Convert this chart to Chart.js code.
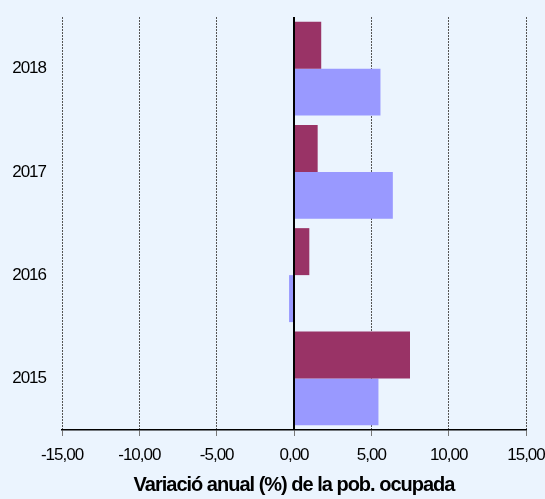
<!DOCTYPE html>
<html>
<head>
<meta charset="utf-8">
<script src="https://cdn.jsdelivr.net/npm/chart.js@4/dist/chart.umd.min.js"></script>
<style>
    html, body { margin: 0; padding: 0; background: #ebf4fe; }
    #wrap { width: 545px; height: 499px; position: relative; }
</style>
</head>
<body>
<div id="wrap"><canvas id="ocupChart"></canvas></div>
<script>
const years = ['2018', '2017', '2016', '2015'];
const serieA = [1.76, 1.53, 0.99, 7.50];
const serieB = [5.59, 6.39, -0.32, 5.46];
const xTicks = [-15, -10, -5, 0, 5, 10, 15];

const sans = "'Liberation Sans', Arial, sans-serif";

// the original uses a narrow face, squeeze the text a little
const tightText = {
    id: 'tightText',
    beforeLayout(chart) { chart.ctx.letterSpacing = '-1px'; },
    beforeDraw(chart) { chart.ctx.letterSpacing = '-1px'; }
};

// solid black line at zero, on top of the bars
const zeroLine = {
    id: 'zeroLine',
    afterDatasetsDraw(chart) {
        const {ctx, chartArea, scales} = chart;
        const x = scales.x.getPixelForValue(0);
        ctx.save();
        ctx.strokeStyle = '#000';
        ctx.lineWidth = 2;
        ctx.beginPath();
        ctx.moveTo(x, chartArea.top);
        ctx.lineTo(x, chartArea.bottom);
        ctx.stroke();
        ctx.restore();
    }
};

new Chart(document.getElementById('ocupChart'), {
    type: 'bar',
    data: {
        labels: years,
        datasets: [
            {data: serieA, backgroundColor: '#993366', barPercentage: 1.0, categoryPercentage: 0.91},
            {data: serieB, backgroundColor: '#9999ff', barPercentage: 1.0, categoryPercentage: 0.91}
        ]
    },
    options: {
        indexAxis: 'y',
        responsive: true,
        maintainAspectRatio: false,
        animation: false,
        layout: {padding: {top: 17, right: 0, left: 0, bottom: 0}},
        plugins: {
            legend: {display: false},
            tooltip: {enabled: false}
        },
        scales: {
            x: {
                min: -15,
                max: 15,
                afterBuildTicks: scale => { scale.ticks = xTicks.map(v => ({value: v})); },
                afterFit: scale => {
                    scale.height = 69;
                    scale.paddingRight = 19;
                    scale.paddingTop = 0;
                },
                grid: {
                    color: c => (c.tick && c.tick.value === 0) ? 'rgba(0,0,0,0)' : '#555',
                    lineWidth: 1,
                    tickLength: 6,
                    tickColor: '#777'
                },
                border: {display: true, color: '#000', width: 1.5, dash: [2, 1]},
                ticks: {
                    color: '#000',
                    padding: 9,
                    font: {family: sans, size: 17},
                    callback: v => v.toFixed(2).replace('.', ',')
                },
                title: {
                    display: true,
                    text: 'Variació anual (%) de la pob. ocupada',
                    color: '#000',
                    padding: {top: 2, bottom: 2},
                    font: {family: sans, size: 20, weight: 'bold'}
                }
            },
            y: {
                afterFit: scale => {
                    scale.width = 62;
                    scale.paddingTop = 0;
                    scale.paddingBottom = 0;
                },
                grid: {display: false, drawTicks: false},
                border: {display: false},
                ticks: {
                    color: '#000',
                    padding: 16,
                    font: {family: sans, size: 17}
                }
            }
        }
    },
    plugins: [tightText, zeroLine]
});
</script>
</body>
</html>
